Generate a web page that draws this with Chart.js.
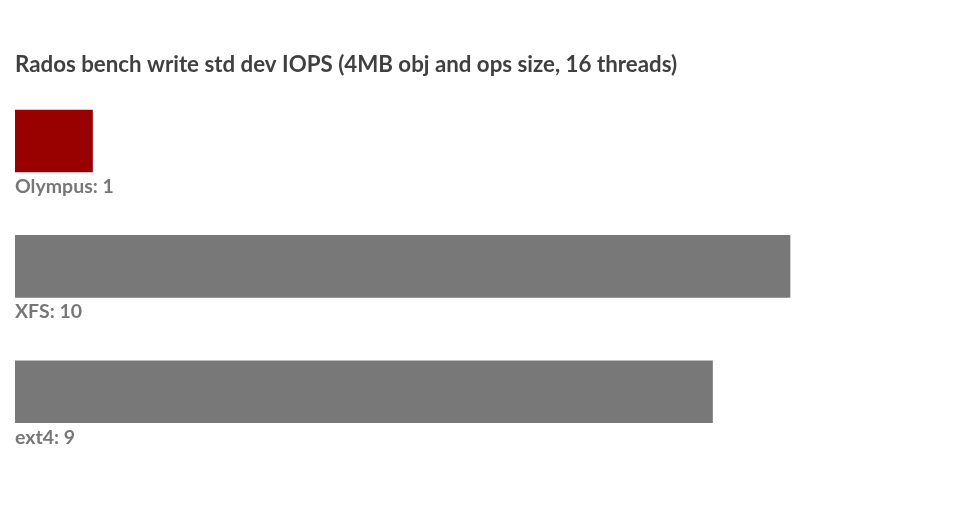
<!DOCTYPE html>
<html>
<head>
<meta charset="utf-8">
<script src="https://cdn.jsdelivr.net/npm/chart.js@4/dist/chart.umd.min.js"></script>
<style>
html,body{margin:0;padding:0;background:#fff;}
#wrap{width:960px;height:532px;}
</style>
</head>
<body>
<div id="wrap"><canvas id="c" width="960" height="532"></canvas></div>
<script>
const categories = ["Olympus", "XFS", "ext4"];
const values = [1, 10, 9];
const barColors = ["#990000", "#787878", "#787878"];
const titleText = "Rados bench write std dev IOPS (4MB obj and ops size, 16 threads)";

const labelPlugin = {
  id: 'belowLabels',
  afterDatasetsDraw(chart) {
    const ctx = chart.ctx;
    const meta = chart.getDatasetMeta(0);
    ctx.save();
    ctx.font = 'bold 19.5px Lato, "Open Sans", sans-serif';
    ctx.fillStyle = '#777777';
    ctx.textAlign = 'left';
    ctx.textBaseline = 'alphabetic';
    meta.data.forEach((bar, i) => {
      const bottom = bar.y + bar.height / 2;
      ctx.fillText(categories[i] + ': ' + values[i], bar.base, bottom + 21);
    });
    ctx.restore();
  }
};

new Chart(document.getElementById('c'), {
  type: 'bar',
  data: {
    labels: categories,
    datasets: [{
      data: values,
      backgroundColor: barColors,
      borderWidth: 0,
      barThickness: 62
    }]
  },
  options: {
    indexAxis: 'y',
    responsive: false,
    animation: false,
    layout: { padding: { top: 0, left: 15, right: 15, bottom: 77.5 } },
    scales: {
      x: { display: false, min: 0, max: 12 },
      y: { display: false }
    },
    plugins: {
      legend: { display: false },
      tooltip: { enabled: false },
      title: {
        display: true,
        text: titleText,
        align: 'start',
        color: '#404040',
        font: { family: 'Lato, "Open Sans", sans-serif', size: 22.3, weight: 'bold', lineHeight: 1.2 },
        padding: { top: 51.5, bottom: 0 }
      }
    }
  },
  plugins: [labelPlugin]
});
</script>
</body>
</html>
